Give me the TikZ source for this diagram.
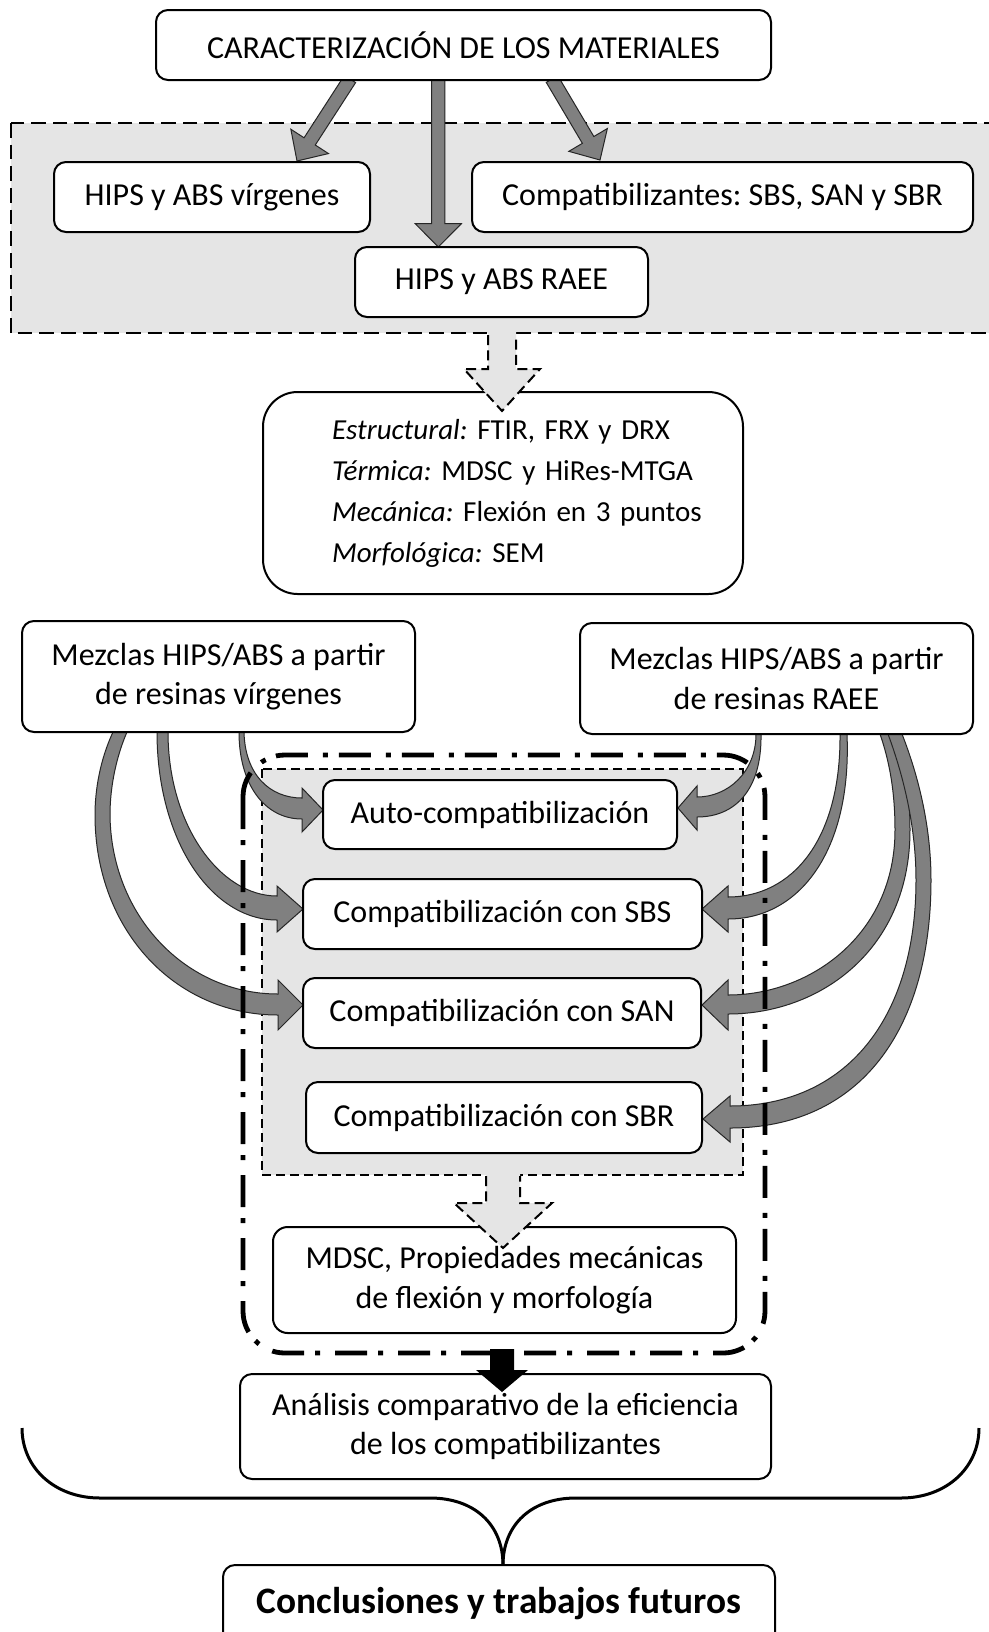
\documentclass[tikz,border=0pt]{standalone}
\usepackage{fontspec}
\setmainfont{Carlito}
\usetikzlibrary{calc}
\frenchspacing
\newcommand\myblockarrow[6]{%
  \coordinate (ba-s) at (#1);
  \coordinate (ba-t) at (#2);
  \coordinate (ba-b) at ($(ba-t)!#5!(ba-s)$);
  \filldraw[#6] ($(ba-s)!#3!90:(ba-t)$) -- ($(ba-b)!#3!90:(ba-t)$) -- ($(ba-b)!#4!90:(ba-t)$)
    -- (ba-t) -- ($(ba-b)!#4!-90:(ba-t)$) -- ($(ba-b)!#3!-90:(ba-t)$) -- ($(ba-s)!#3!-90:(ba-t)$) -- cycle;
}
\begin{document}
\begin{tikzpicture}[x=0.75pt,y=-0.75pt,
  box/.style={draw, line width=1.5pt, fill=white, rounded corners=9pt, inner sep=0pt,
    align=center, font=\fontsize{24}{29.5}\selectfont},
  region/.style={fill=gray!20, draw, line width=1.9pt, dash pattern=on 11pt off 5.25pt},
  innerregion/.style={fill=gray!20, draw, line width=1.1pt, dash pattern=on 7pt off 3.5pt},
  dashdotline/.style={draw, line width=3.6pt, dash pattern=on 24pt off 8.25pt on 3.75pt off 11.25pt, rounded corners=31.5pt},
  garrow/.style={fill=gray, draw=black!85, line width=0.75pt},
  hollowline/.style={draw, line width=1.5pt, dash pattern=on 7.5pt off 4pt},
  bracestyle/.style={draw, line width=2.25pt}]
\clip (0,0) rectangle (989,1632);
\fill[white] (0,0) rectangle (989,1632);

% regions
\path[region] (11,123) rectangle (1010,333);
\path[innerregion] (262,769) rectangle (743,1175);

% straight block arrows
\myblockarrow{350,79}{297,161}{5pt}{16.8pt}{17.5pt}{garrow}
\myblockarrow{438.3,79}{438.3,247}{5pt}{17.3pt}{17.5pt}{garrow}
\myblockarrow{552,79}{600,160}{5pt}{16.8pt}{17.5pt}{garrow}

% curved arrows from left box
\filldraw[garrow] (239,732) .. controls (239,785) and (265,819) .. (302,819) -- (302,832) -- (323,810) -- (302,788) -- (302,798) .. controls (270,798) and (245,775) .. (244,732) -- cycle;
\filldraw[garrow] (157,732) .. controls (157,840) and (211,920) .. (277,920) -- (277,932) -- (303,909) -- (277,886) -- (277,896) .. controls (220,896) and (168,825) .. (168,732) -- cycle;
\filldraw[garrow] (113,732) .. controls (100,760) and (95,790) .. (95,815) .. controls (95,930) and (175,1015) .. (278,1015) -- (278,1030) -- (303,1005) -- (278,980) -- (278,994) .. controls (185,994) and (111,915) .. (110,815) .. controls (110,785) and (117,755) .. (127,732) -- cycle;
% curved arrows from right box
\filldraw[garrow] (761,734) .. controls (762,790) and (735,817) .. (697,817) -- (697,830) -- (678,808) -- (697,786) -- (697,797) .. controls (728,797) and (756,772) .. (756,734) -- cycle;
\filldraw[garrow] (847,734) .. controls (852,850) and (800,919) .. (728,919) -- (728,932) -- (702,909) -- (728,886) -- (728,897) .. controls (792,897) and (841,840) .. (840,734) -- cycle;
\filldraw[garrow] (893,734) .. controls (904,760) and (910,790) .. (910,830) .. controls (910,950) and (820,1014) .. (728,1014) -- (728,1030) -- (702,1005) -- (728,980) -- (728,995) .. controls (810,995) and (895,935) .. (895,830) .. controls (895,790) and (889,760) .. (880,734) -- cycle;
\filldraw[garrow] (902,734) .. controls (920,780) and (931,830) .. (931,880) .. controls (931,1030) and (860,1128) .. (730,1128) -- (730,1142) -- (703,1119) -- (730,1096) -- (730,1106) .. controls (845,1106) and (916,1020) .. (916,880) .. controls (916,830) and (905,780) .. (888,734) -- cycle;

% dash-dot group
\path[dashdotline] (243,755) rectangle (765,1353);

% boxes
\node[box, minimum width=461.25pt, minimum height=52.5pt] (title) at (463.5,45) {CARACTERIZACIÓN DE LOS MATERIALES};
\node[box, minimum width=237pt, minimum height=52.5pt] (virg) at (212,197) {HIPS y ABS vírgenes};
\node[box, minimum width=375.75pt, minimum height=52.5pt] (compat) at (722.5,197) {Compatibilizantes: SBS, SAN y SBR};
\node[box, minimum width=219.75pt, minimum height=52.5pt] (raee) at (501.5,282) {HIPS y ABS RAEE};
\node[box, minimum width=360pt, minimum height=151.5pt, rounded corners=26pt, text width=256.5pt, align=left,
  font=\fontsize{21.75}{30.75}\selectfont] (estr) at (503,493)
  {\mbox{\textit{Estructural:} FTIR, FRX y DRX}\\ \mbox{\textit{Térmica:} MDSC y HiRes-MTGA}\\ \mbox{\textit{Mecánica:} Flexión en 3 puntos}\\ \mbox{\textit{Morfológica:} SEM}};
\node[box, minimum width=294.75pt, minimum height=83.25pt] (mezV) at (218.5,676.5) {Mezclas HIPS/ABS a partir\\de resinas vírgenes};
\node[box, minimum width=294.75pt, minimum height=83.25pt] (mezR) at (776.5,678.5) {Mezclas HIPS/ABS a partir\\de resinas RAEE};
\node[box, minimum width=265.5pt, minimum height=51.75pt] (auto) at (500,814.5) {Auto-compatibilización};
\node[box, minimum width=299.25pt, minimum height=52.5pt] (sbs) at (502.5,914) {Compatibilización con SBS};
\node[box, minimum width=298.5pt, minimum height=52.5pt] (san) at (502,1013) {Compatibilización con SAN};
\node[box, minimum width=297pt, minimum height=53.25pt] (sbr) at (504,1117.5) {Compatibilización con SBR};
\node[box, minimum width=347.25pt, minimum height=79.5pt, rounded corners=11pt] (mdsc) at (504.5,1280) {MDSC, Propiedades mecánicas\\de flexión y morfología};
\node[box, minimum width=398.25pt, minimum height=78.75pt] (anal) at (505.5,1426.5) {Análisis comparativo de la eficiencia\\de los compatibilizantes};
\node[box, minimum width=414pt, minimum height=72pt, text height=20pt, text depth=20pt,
  font=\fontsize{28}{33}\selectfont\bfseries] (concl) at (499,1613) {Conclusiones y trabajos futuros};

% hollow dashed arrows
\fill[gray!20] (488,329) -- (488,369) -- (464,369) -- (502,411) -- (540,369) -- (516,369) -- (516,329) -- cycle;
\path[hollowline] (488,335) -- (488,369) -- (464,369) -- (502,411) -- (540,369) -- (516,369) -- (516,335);
\fill[gray!20] (486,1172) -- (486,1203) -- (454,1203) -- (503,1248) -- (552,1203) -- (520,1203) -- (520,1172) -- cycle;
\path[hollowline] (486,1176) -- (486,1203) -- (454,1203) -- (503,1248) -- (552,1203) -- (520,1203) -- (520,1176);

% black arrow
\fill[black] (490,1349) -- (490,1370) -- (476,1370) -- (502,1392) -- (528,1370) -- (514,1370) -- (514,1349) -- cycle;

% brace
\path[bracestyle] (22,1428) .. controls (22,1468) and (55,1498) .. (100,1498) -- (430,1498) .. controls (475,1498) and (503,1525) .. (503,1565);
\path[bracestyle] (979,1428) .. controls (979,1468) and (946,1498) .. (901,1498) -- (576,1498) .. controls (531,1498) and (503,1525) .. (503,1565);
\end{tikzpicture}
\end{document}
